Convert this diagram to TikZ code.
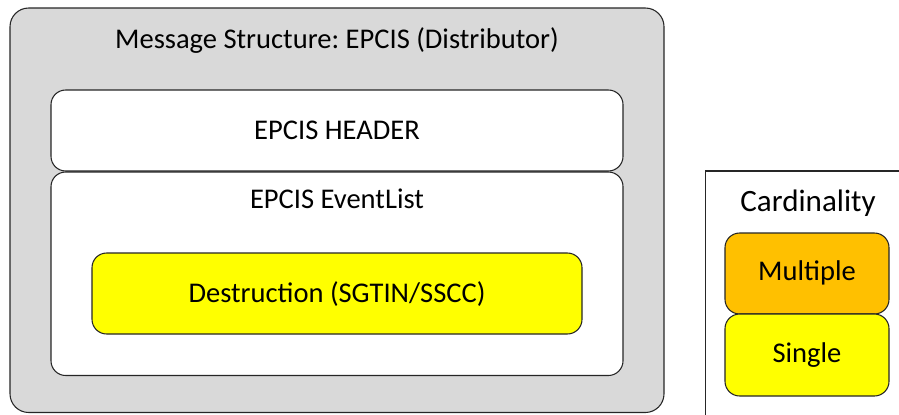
\documentclass[tikz,border=0pt]{standalone}
\usepackage{fontspec}
\setmainfont{Carlito}
\begin{document}
\frenchspacing
\begin{tikzpicture}[x=0.75pt,y=-0.75pt,
  box/.style={draw=black!85, line width=0.8pt, rounded corners=11pt},
  lbl/.style={font=\fontsize{21.4}{24}\selectfont, text=black, inner sep=0pt}]
\useasboundingbox (0,0) rectangle (899,414);
\clip (0,0) rectangle (899,414);
% outer
\draw[box, fill={rgb,255:red,217;green,217;blue,217}, rounded corners=14pt] (10,8) rectangle (664,412.5);
\node[lbl] (title) at (337,41) {Message Structure: EPCIS (Distributor)};
% header
\draw[box, fill=white] (51,90) rectangle (623,171);
\node[lbl] (header) at (337,130) {EPCIS HEADER};
% eventlist
\draw[box, fill=white] (51,172) rectangle (623,375.5);
\node[lbl] (evl) at (337,199) {EPCIS EventList};
% destruction
\draw[box, fill={rgb,255:red,255;green,255;blue,0}] (92,253) rectangle (582,334);
\node[lbl] (destr) at (337,294) {Destruction (SGTIN/SSCC)};
% cardinality
\draw[draw=black!85, line width=0.8pt, fill=white] (705.5,171) rectangle (920,430);
\node[lbl, font=\fontsize{23.3}{26}\selectfont] (card) at (808,203) {Cardinality};
\draw[box, fill={rgb,255:red,255;green,192;blue,0}] (725,233) rectangle (889,314);
\node[lbl] (mult) at (807,273) {Multiple};
\draw[box, fill={rgb,255:red,255;green,255;blue,0}] (725,314) rectangle (889,396);
\node[lbl] (single) at (807,355) {Single};
\end{tikzpicture}
\end{document}
